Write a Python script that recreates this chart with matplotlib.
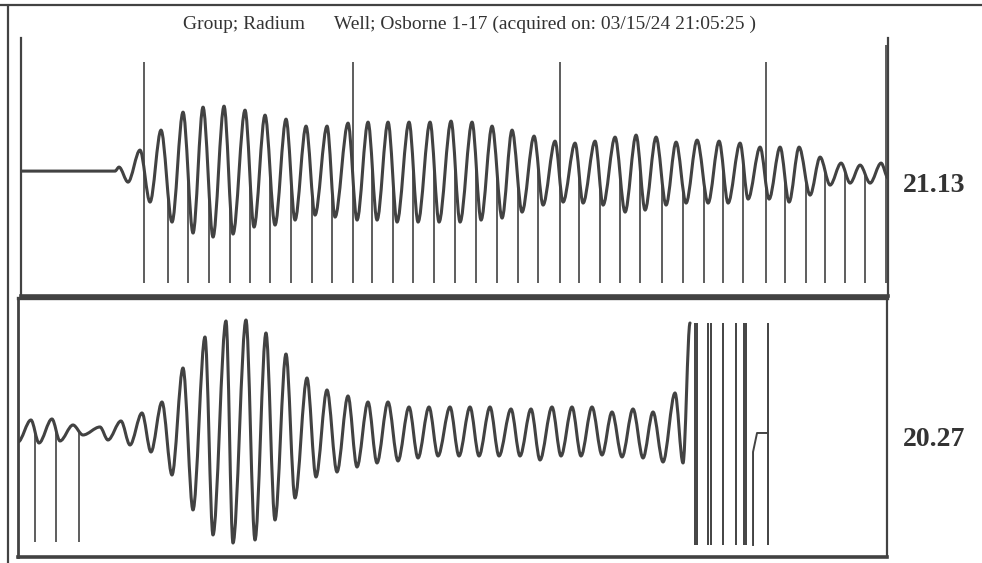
import numpy as np
import matplotlib
matplotlib.use('Agg')
import matplotlib.pyplot as plt
from matplotlib.lines import Line2D
from matplotlib.patches import PathPatch
from matplotlib.path import Path

INK = '#424242'

# receiver 1 (21.13): alternating extrema of the trace, x in samples, y in counts
top_x = [0, 94, 98, 107, 119, 129, 140, 151, 162, 172,
         182, 192, 203, 212, 224, 233, 244, 254, 265, 274,
         285, 294, 306, 314, 327, 336, 347, 356, 367, 376,
         388, 397, 409, 418, 430, 439, 451, 460, 471, 481,
         491, 501, 513, 522, 534, 542, 554, 562, 574, 582,
         594, 604, 615, 624, 635, 645, 655, 665, 676, 687,
         698, 707, 719, 727, 739, 748, 759, 768, 778, 789,
         799, 809, 820, 829, 839, 849, 860, 867]
top_y = [0, 0, 4, -11, 21, -31, 41, -51, 59, -62,
         64, -66, 65, -63, 61, -56, 56, -54, 52, -49,
         45, -44, 45, -46, 48, -49, 49, -49, 49, -51,
         49, -51, 49, -51, 50, -51, 49, -49, 45, -47,
         41, -41, 35, -34, 30, -31, 28, -32, 30, -34,
         34, -41, 36, -39, 34, -34, 29, -32, 31, -32,
         30, -32, 28, -28, 24, -28, 24, -31, 24, -24,
         14, -14, 8, -12, 6, -12, 8, -7]
# cycle picks (short marks) and the every-10th markers (tall)
top_picks = [147, 167, 188, 209, 229, 249, 270, 291, 311, 351,
             372, 392, 413, 434, 455, 476, 497, 517, 558, 579,
             599, 619, 641, 662, 683, 702, 722, 764, 785, 804,
             824, 844]
top_tall = [123, 332, 539, 745, 865]
top_tall_h = [109, 109, 109, 109, 126]

# receiver 2 (20.27)
bot_x = [0, 13, 21, 34, 42, 55, 65, 82, 90, 103,
         112, 124, 133, 144, 154, 165, 175, 187, 195, 208,
         215, 228, 237, 248, 257, 268, 277, 289, 298, 309,
         319, 330, 339, 350, 359, 370, 380, 391, 400, 411,
         420, 432, 441, 452, 461, 472, 481, 493, 502, 513,
         522, 534, 543, 554, 563, 574, 584, 594, 604, 615,
         625, 635, 645, 657, 665, 672]
bot_y = [-10, 12, -11, 13, -9, 7, -3, 5, -8, 11,
         -13, 19, -20, 30, -43, 64, -78, 95, -103, 111,
         -111, 112, -108, 99, -88, 78, -66, 54, -45, 42,
         -40, 36, -35, 30, -31, 30, -29, 25, -26, 25,
         -24, 25, -24, 25, -24, 25, -24, 23, -24, 23,
         -28, 25, -24, 25, -24, 25, -23, 20, -25, 23,
         -26, 20, -30, 39, -31, 109]
bot_picks = [17, 38, 61]
# clipped section at the end of the record
burst_x = [677, 679, 690, 693, 705, 718, 726, 728, 750]
step_x = [735, 735, 739, 749]
step_y = [-113, -20, -1, -1]

labels = ['21.13', '20.27']
title = 'Group; Radium      Well; Osborne 1-17 (acquired on: 03/15/24 21:05:25 )'


def smooth_path(xs, ys):
    """Cubic segments with flat tangents at every extremum."""
    verts = [(xs[0], ys[0])]
    codes = [Path.MOVETO]
    for x0, y0, x1, y1 in zip(xs[:-1], ys[:-1], xs[1:], ys[1:]):
        dx = (x1 - x0) / 3.0
        verts += [(x0 + dx, y0), (x1 - dx, y1), (x1, y1)]
        codes += [Path.CURVE4] * 3
    return Path(verts, codes)


def trace_at(xs, ys, x):
    # same curve as smooth_path (control points at 1/3 -> smoothstep)
    xs = np.asarray(xs, float)
    ys = np.asarray(ys, float)
    i = np.clip(np.searchsorted(xs, x) - 1, 0, len(xs) - 2)
    t = (x - xs[i]) / (xs[i + 1] - xs[i])
    return ys[i] + (ys[i + 1] - ys[i]) * (3 * t ** 2 - 2 * t ** 3)


def _frame(ax, lw):
    ax.set_xticks([])
    ax.set_yticks([])
    for side, w in lw.items():
        if w == 0:
            ax.spines[side].set_visible(False)
        else:
            ax.spines[side].set_linewidth(w)
            ax.spines[side].set_color(INK)


fig = plt.figure(figsize=(9.82, 5.63), dpi=100)
plt.rcParams['font.family'] = ['Liberation Serif', 'DejaVu Serif']

ax1 = fig.add_axes([0.0214, 0.4742, 0.883, 0.458])
ax2 = fig.add_axes([0.0183, 0.0107, 0.885, 0.460])

# top trace
ax1.vlines(top_picks, -112, trace_at(top_x, top_y, np.array(top_picks, float)),
           color=INK, lw=1.2, zorder=1)
ax1.vlines(top_tall, -112, top_tall_h, color=INK, lw=1.2, zorder=1)
ax1.add_patch(PathPatch(smooth_path(top_x, top_y), fill=False, edgecolor=INK,
                        lw=2.2, capstyle='round', joinstyle='round', zorder=2))
ax1.set_xlim(0, 867)
ax1.set_ylim(-125, 133)
_frame(ax1, {'left': 1.6, 'right': 1.6, 'bottom': 2.6, 'top': 0})

# bottom trace
ax2.vlines(bot_picks, -110, trace_at(bot_x, bot_y, np.array(bot_picks, float)),
           color=INK, lw=1.2, zorder=1)
ax2.vlines(burst_x, -113, 109, color=INK, lw=1.4, zorder=1)
ax2.plot(step_x, step_y, color=INK, lw=1.4, zorder=1)
ax2.add_patch(PathPatch(smooth_path(bot_x, bot_y), fill=False, edgecolor=INK,
                        lw=2.2, capstyle='round', joinstyle='round', zorder=2))
ax2.set_xlim(0, 869)
ax2.set_ylim(-125, 134)
_frame(ax2, {'left': 2.0, 'right': 1.6, 'bottom': 2.6, 'top': 2.4})

# readings to the right of each trace
fig.text(0.951, 0.670, labels[0], ha='center', va='center',
         fontsize=20, fontweight='bold', color='#333333')
fig.text(0.951, 0.2185, labels[1], ha='center', va='center',
         fontsize=20, fontweight='bold', color='#333333')
fig.text(0.4786, 0.956, title, ha='center', va='center', fontsize=14, color='#333333')

# page border from the printout
fig.add_artist(Line2D([0.008, 0.008], [0.0, 0.99], transform=fig.transFigure,
                      color=INK, lw=1.6))
fig.add_artist(Line2D([0.0, 1.0], [0.991, 0.991], transform=fig.transFigure,
                      color=INK, lw=1.6))

fig.savefig('out.png', dpi=100)
